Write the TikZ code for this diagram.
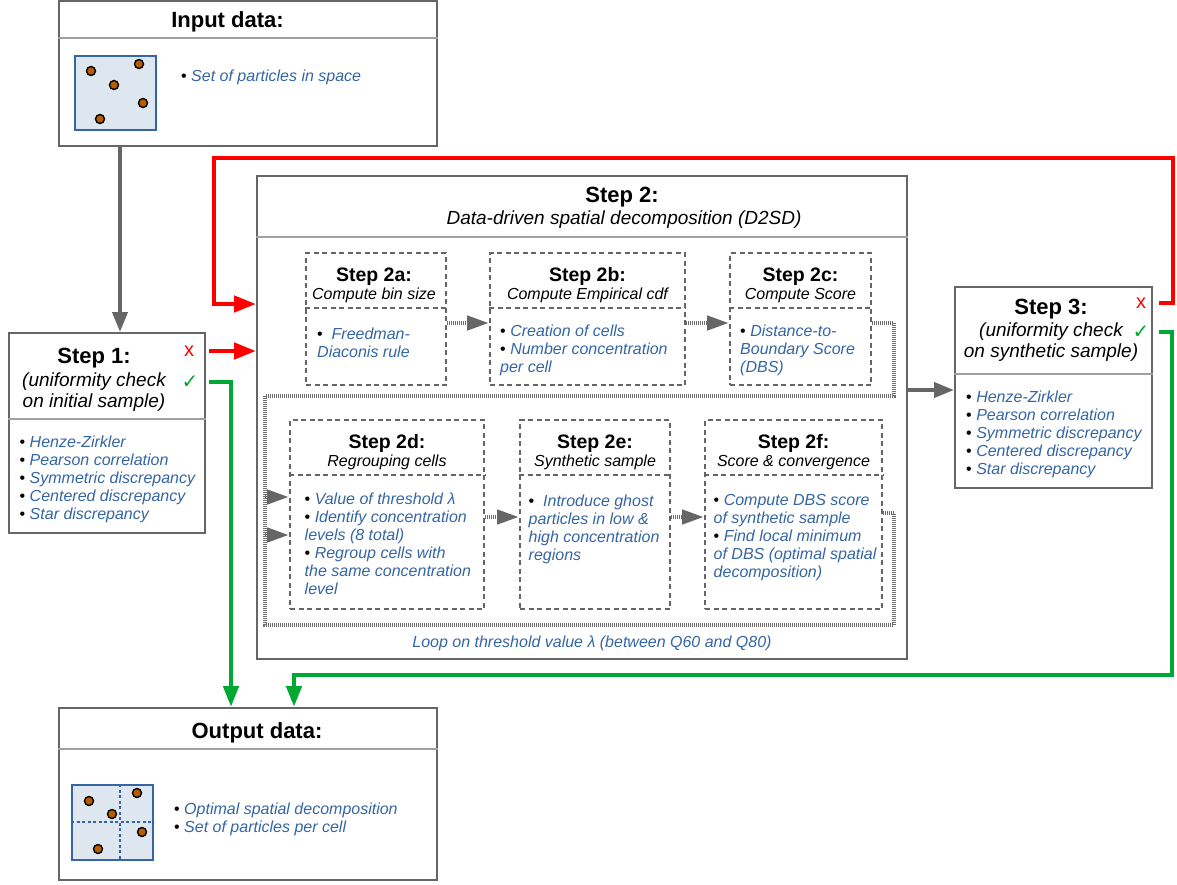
\documentclass[tikz,border=0pt]{standalone}
\usepackage{fontspec}
\setmainfont{Liberation Sans}
\newfontfamily\checkfont{DejaVu Sans}
\usetikzlibrary{arrows.meta,calc}

\definecolor{boxgray}{RGB}{102,102,102}
\definecolor{sepgray}{RGB}{160,160,160}
\definecolor{txtblue}{RGB}{52,101,164}
\definecolor{cellfill}{RGB}{222,230,239}
\definecolor{dotorange}{RGB}{184,92,0}
\definecolor{flowred}{RGB}{255,0,0}
\definecolor{flowgreen}{RGB}{0,169,51}
\definecolor{loopgray}{RGB}{110,110,110}

\newcommand{\bul}{{\upshape\color{black}\textbullet}\ }

\begin{document}
\begin{tikzpicture}[x=1pt,y=1pt,yscale=-1,xscale=1,
    mainbox/.style={draw=boxgray, line width=2pt, inner sep=0pt},
    sepline/.style={draw=sepgray, line width=1.2pt},
    subbox/.style={draw=boxgray, line width=2pt, dash pattern=on 5pt off 3.5pt, inner sep=0pt},
    subsep/.style={draw=boxgray, line width=2pt, dash pattern=on 5pt off 3.5pt},
    bigtitle/.style={font=\bfseries\fontsize{22}{24}\selectfont, inner sep=0pt, anchor=base},
    subtitle/.style={font=\itshape\fontsize{19}{21}\selectfont, align=center, inner sep=0pt, anchor=north},
    steptitle/.style={font=\bfseries\fontsize{19.5}{21}\selectfont, inner sep=0pt, anchor=base},
    stepsub/.style={font=\itshape\fontsize{16}{18}\selectfont, inner sep=0pt, anchor=base},
    bodytext/.style={font=\itshape\fontsize{16}{18}\selectfont, text=txtblue, align=left, anchor=north west, inner sep=0pt},
    cellsq/.style={draw=txtblue, fill=cellfill, line width=1.5pt, inner sep=0pt},
    celldash/.style={draw=txtblue, line width=1.3pt, dash pattern=on 3pt off 2.5pt},
    particle/.style={circle, draw=black, fill=dotorange, line width=1.4pt, minimum size=9pt, inner sep=0pt},
    grayarrow/.style={draw=boxgray, line width=4pt, -{Triangle[length=20pt,width=15pt]}},
    redarrow/.style={draw=flowred, line width=4.5pt, -{Triangle[length=22pt,width=16pt]}},
    greenarrow/.style={draw=flowgreen, line width=4.5pt, -{Triangle[length=21pt,width=15pt]}},
    loopline/.style={draw=loopgray, line width=4.5pt, dash pattern=on 1pt off 1pt},
    looparrow/.style={loopline, -{Triangle[length=22pt,width=14pt,color=boxgray]}},
    xmark/.style={text=flowred, font=\fontsize{20}{20}\selectfont, inner sep=0pt},
    ckmark/.style={text=flowgreen, font=\checkfont\fontsize{20}{20}\selectfont, inner sep=0pt}
  ]
  \useasboundingbox (0,0) rectangle (1177,884);

  %Shape: Input data
  \node[mainbox, minimum width=378, minimum height=145] (input) at (248,73.5) {};
  \draw[sepline] (input.west |- 0,38) -- (input.east |- 0,38);
  % Text Node
  \node[bigtitle] (intitle) at (227.5,27.5) {Input data:};
  \node[cellsq, minimum width=81, minimum height=74] (incell) at (115.5,93) {};
  \foreach \px/\py [count=\i] in {91/71,139/64,114/85,143/103,100/119}
    \node[particle] (inp\i) at (\px,\py) {};
  % Text Node
  \node[bodytext] (intext) at (181,69.3) {\bul Set of particles in space};

  %Shape: Step 1
  \node[mainbox, minimum width=196, minimum height=200] (step1) at (107,433) {};
  \draw[sepline] (step1.west |- 0,419) -- (step1.east |- 0,419);
  % Text Node
  \node[bigtitle] (s1title) at (94,363) {Step 1:};
  \node[subtitle] (s1sub) at (94,373) {(uniformity check\\on initial sample)};
  \node[xmark] (xm1) at (189,351) {x};
  \node[ckmark] (ck1) at (190,382) {✓};
  \node[bodytext] (s1list) at (19.5,436) {\bul Henze-Zirkler\\\bul Pearson correlation\\\bul Symmetric discrepancy\\\bul Centered discrepancy\\\bul Star discrepancy};

  %Shape: Step 2
  \node[mainbox, minimum width=650, minimum height=483] (step2) at (582,417.5) {};
  \draw[sepline] (step2.west |- 0,237) -- (step2.east |- 0,237);
  % Text Node
  \node[bigtitle] (s2title) at (622,202) {Step 2:};
  \node[subtitle] (s2sub) at (624,211) {Data-driven spatial decomposition (D2SD)};

  %Shape: Step 2a
  \node[subbox, minimum width=140, minimum height=132] (s2a) at (376,319) {};
  \draw[subsep] (s2a.west |- 0,308) -- (s2a.east |- 0,308);
  \node[steptitle] (s2atitle) at (374,281.7) {Step 2a:};
  \node[stepsub] (s2asub) at (374,299) {Compute bin size};
  \node[bodytext] (s2alist) at (317,328) {\bul\ Freedman-\\Diaconis rule};

  %Shape: Step 2b
  \node[subbox, minimum width=195, minimum height=132] (s2b) at (587.5,319) {};
  \draw[subsep] (s2b.west |- 0,308) -- (s2b.east |- 0,308);
  \node[steptitle] (s2btitle) at (587.5,281.7) {Step 2b:};
  \node[stepsub] (s2bsub) at (587.5,299) {Compute Empirical cdf};
  \node[bodytext] (s2blist) at (500,325) {\bul Creation of cells\\\bul Number concentration\\per cell};

  %Shape: Step 2c
  \node[subbox, minimum width=141, minimum height=132] (s2c) at (800.5,319) {};
  \draw[subsep] (s2c.west |- 0,308) -- (s2c.east |- 0,308);
  \node[steptitle] (s2ctitle) at (800.5,281.7) {Step 2c:};
  \node[stepsub] (s2csub) at (800.5,299) {Compute Score};
  \node[bodytext] (s2clist) at (740,325) {\bul Distance-to-\\Boundary Score\\(DBS)};

  %Shape: Step 2d
  \node[subbox, minimum width=194, minimum height=189] (s2d) at (387,514.5) {};
  \draw[subsep] (s2d.west |- 0,475) -- (s2d.east |- 0,475);
  \node[steptitle] (s2dtitle) at (387,448.7) {Step 2d:};
  \node[stepsub] (s2dsub) at (387,466) {Regrouping cells};
  \node[bodytext] (s2dlist) at (304.5,492.5) {\bul Value of threshold λ\\\bul Identify concentration\\levels (8 total)\\\bul Regroup cells with\\the same concentration\\level};

  %Shape: Step 2e
  \node[subbox, minimum width=150, minimum height=189] (s2e) at (595,514.5) {};
  \draw[subsep] (s2e.west |- 0,475) -- (s2e.east |- 0,475);
  \node[steptitle] (s2etitle) at (595,448.7) {Step 2e:};
  \node[stepsub] (s2esub) at (595,466) {Synthetic sample};
  \node[bodytext] (s2elist) at (528.5,494.5) {\bul\ Introduce ghost\\particles in low \&\\high concentration\\regions};

  %Shape: Step 2f
  \node[subbox, minimum width=177, minimum height=189] (s2f) at (793.5,514.5) {};
  \draw[subsep] (s2f.west |- 0,475) -- (s2f.east |- 0,475);
  \node[steptitle] (s2ftitle) at (793.5,448.7) {Step 2f:};
  \node[stepsub] (s2fsub) at (793.5,466) {Score \& convergence};
  \node[bodytext] (s2flist) at (713.5,494.5) {\bul Compute DBS score\\of synthetic sample\\\bul Find local minimum\\of DBS (optimal spatial\\decomposition)};

  %Straight Lines: inner flow and loop
  \draw[looparrow] (s2a.east |- 0,323) -- (s2b.west |- 0,323);
  \draw[looparrow] (s2b.east |- 0,323) -- (s2c.west |- 0,323);
  \draw[looparrow] (s2d.east |- 0,517) -- (s2e.west |- 0,517);
  \draw[looparrow] (s2e.east |- 0,517) -- (s2f.west |- 0,517);
  \draw[loopline] (s2c.east |- 0,323) -| (894,396) -| (265,625) -| (894,513) -- (s2f.east |- 0,513);
  \draw[looparrow] (265,497) -- (s2d.west |- 0,497);
  \draw[looparrow] (265,535) -- (s2d.west |- 0,535);
  % Text Node
  \node[bodytext, anchor=center] (looplabel) at (592,643) {Loop on threshold value λ (between Q60 and Q80)};

  %Shape: Step 3
  \node[mainbox, minimum width=197, minimum height=201] (step3) at (1053.5,387.5) {};
  \draw[sepline] (step3.west |- 0,374) -- (step3.east |- 0,374);
  % Text Node
  \node[bigtitle] (s3title) at (1051,314) {Step 3:};
  \node[subtitle] (s3sub) at (1051,323) {(uniformity check\\on synthetic sample)};
  \node[xmark] (xm3) at (1141,303) {x};
  \node[ckmark] (ck3) at (1141,332) {✓};
  \node[bodytext] (s3list) at (966,391) {\bul Henze-Zirkler\\\bul Pearson correlation\\\bul Symmetric discrepancy\\\bul Centered discrepancy\\\bul Star discrepancy};

  %Shape: Output data
  \node[mainbox, minimum width=378, minimum height=172] (output) at (248,794) {};
  \draw[sepline] (output.west |- 0,749) -- (output.east |- 0,749);
  % Text Node
  \node[bigtitle] (outtitle) at (257,738) {Output data:};
  \node[cellsq, minimum width=81, minimum height=75] (outcell) at (112.5,822.5) {};
  \draw[celldash] (outcell.north -| 120,0) -- (outcell.south -| 120,0);
  \draw[celldash] (outcell.west |- 0,822) -- (outcell.east |- 0,822);
  \foreach \px/\py [count=\i] in {89/801,137/793,112/814,142/832,98/849}
    \node[particle] (outp\i) at (\px,\py) {};
  % Text Node
  \node[bodytext] (outtext) at (174,803) {\bul Optimal spatial decomposition\\\bul Set of particles per cell};

  %Straight Lines: main flow
  \draw[grayarrow] (input.south -| 120,0) -- (step1.north -| 120,0);
  \draw[redarrow] ([xshift=3]step1.east |- xm1) -- (step2.west |- xm1);
  \draw[greenarrow] ([xshift=3]step1.east |- ck1) -| (output.north -| 231,0);
  \draw[grayarrow] (step2.east |- 0,390) -- (step3.west |- 0,390);
  \draw[redarrow] ([xshift=6]step3.east |- xm3) -| (1173,158) -| (214,304) -- (step2.west |- 0,304);
  \draw[greenarrow] ([xshift=6]step3.east |- ck3) -| (1172,675) -| (output.north -| 294,0);
\end{tikzpicture}
\end{document}
